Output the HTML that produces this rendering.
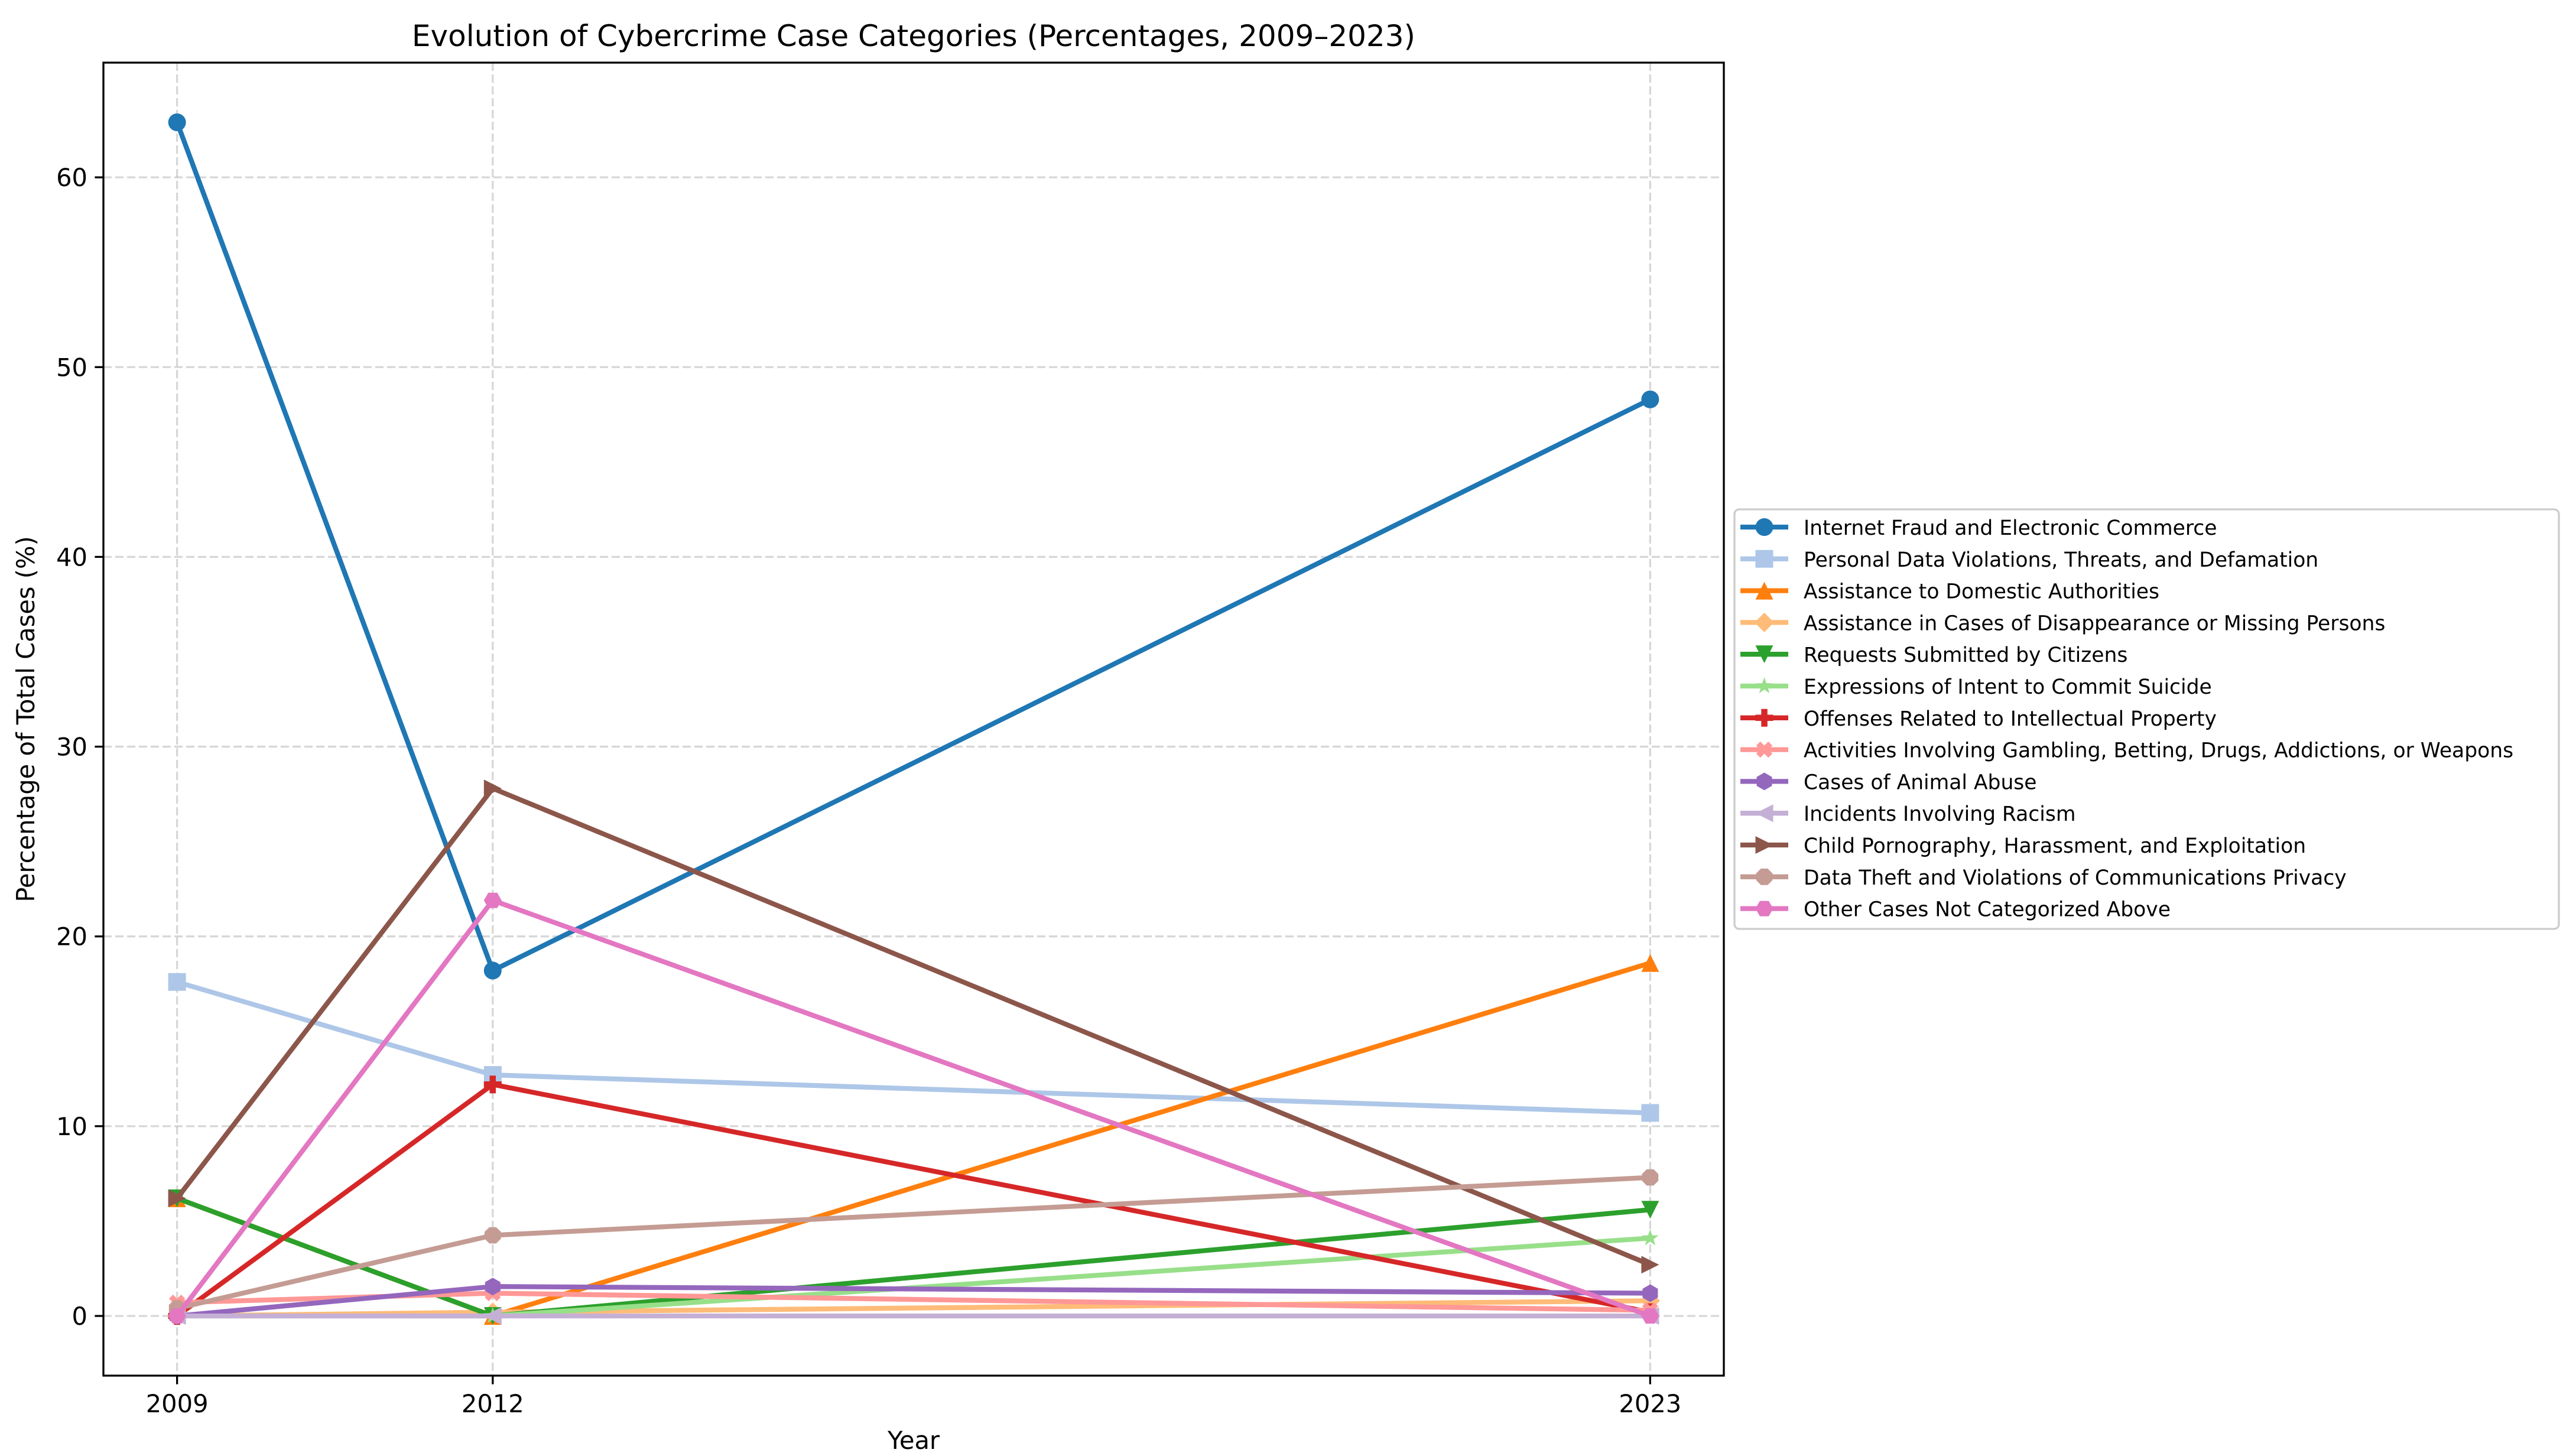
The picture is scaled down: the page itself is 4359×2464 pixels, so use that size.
<!DOCTYPE html>
<html><head><meta charset="utf-8"><style>
html,body{margin:0;padding:0;background:#fff;}
svg{display:block;font-family:"DejaVu Sans","Liberation Sans",sans-serif;}
</style></head><body>
<svg id="chart" width="4359" height="2464" viewBox="0 0 4359 2464" xmlns="http://www.w3.org/2000/svg">
<rect width="4359" height="2464" fill="#fff"/>
<text x="1546" y="78" font-size="50" text-anchor="middle">Evolution of Cybercrime Case Categories (Percentages, 2009–2023)</text>
<text x="1546" y="2452" font-size="41.6" text-anchor="middle">Year</text>
<text transform="translate(58,1217) rotate(-90)" font-size="41.6" text-anchor="middle">Percentage of Total Cases (%)</text>
<g id="grid"></g><g id="series"></g><g id="axes"></g><g id="legend"></g>
</svg>
<script>
const years = [2009, 2012, 2023];
const yTicks = [0, 10, 20, 30, 40, 50, 60];
const seriesNames = ["Internet Fraud and Electronic Commerce","Personal Data Violations, Threats, and Defamation","Assistance to Domestic Authorities","Assistance in Cases of Disappearance or Missing Persons","Requests Submitted by Citizens","Expressions of Intent to Commit Suicide","Offenses Related to Intellectual Property","Activities Involving Gambling, Betting, Drugs, Addictions, or Weapons","Cases of Animal Abuse","Incidents Involving Racism","Child Pornography, Harassment, and Exploitation","Data Theft and Violations of Communications Privacy","Other Cases Not Categorized Above"];
const fraud = [62.9, 18.2, 48.3];
const personalData = [17.6, 12.7, 10.7];
const domesticAuth = [6.2, 0, 18.6];
const missing = [0, 0.2, 0.8];
const requests = [6.2, 0, 5.6];
const suicide = [0, 0, 4.1];
const ip = [0, 12.2, 0.2];
const gambling = [0.7, 1.2, 0.3];
const animal = [0, 1.55, 1.2];
const racism = [0, 0, 0];
const child = [6.2, 27.8, 2.7];
const dataTheft = [0.4, 4.25, 7.3];
const other = [0, 21.9, 0];
const seriesValues = [fraud, personalData, domesticAuth, missing, requests, suicide, ip, gambling, animal, racism, child, dataTheft, other];
const colors = ["#1f77b4","#aec7e8","#ff7f0e","#ffbb78","#2ca02c","#98df8a","#d62728","#ff9896","#9467bd","#c5b0d5","#8c564b","#c49c94","#e377c2"];
const markers = ["o","s","^","D","v","*","P","X","h","<",">","8","H"];

const NS = "http://www.w3.org/2000/svg";
const L = 175, R = 2917, T = 106, B = 2328;
const allV = seriesValues.flat();
const vmin = Math.min(0, ...allV), vmax = Math.max(...allV);
const pad = (vmax - vmin) * 0.05;
const y0 = vmin - pad, y1 = vmax + pad;
const x0 = years[0] - 0.7, x1 = years[years.length-1] + 0.7;
const xS = v => L + (v - x0) / (x1 - x0) * (R - L);
const yS = v => B - (v - y0) / (y1 - y0) * (B - T);
function mk(tag, attrs, parent){ const e = document.createElementNS(NS, tag); for (const k in attrs) e.setAttribute(k, attrs[k]); parent.appendChild(e); return e; }

const grid = document.getElementById('grid');
yTicks.forEach(t => {
  const ln = mk('line', {x1:L, x2:R, y1:yS(t), y2:yS(t), stroke:'#b0b0b0', 'stroke-opacity':0.5, 'stroke-width':3.3, 'stroke-dasharray':'14,6'}, grid);
  
  
});
years.forEach(t => {
  const ln = mk('line', {x1:xS(t), x2:xS(t), y1:T, y2:B, stroke:'#b0b0b0', 'stroke-opacity':0.5, 'stroke-width':3.3, 'stroke-dasharray':'14,6'}, grid);
  
  
});

function markerPath(m, cx, cy, s){
  const r = s/2; let pts = [];
  const poly = (n, rot, rr) => { const p=[]; for(let i=0;i<n;i++){const a=rot+i*2*Math.PI/n; p.push([cx+rr*Math.cos(a), cy+rr*Math.sin(a)]);} return p; };
  switch(m){
    case 's': pts=[[cx-r,cy-r],[cx+r,cy-r],[cx+r,cy+r],[cx-r,cy+r]]; break;
    case '^': pts=[[cx,cy-r],[cx+r,cy+r],[cx-r,cy+r]]; break;
    case 'v': pts=[[cx,cy+r],[cx+r,cy-r],[cx-r,cy-r]]; break;
    case '<': pts=[[cx-r,cy],[cx+r,cy-r],[cx+r,cy+r]]; break;
    case '>': pts=[[cx+r,cy],[cx-r,cy-r],[cx-r,cy+r]]; break;
    case 'D': { const d=r*1.1; pts=[[cx,cy-d],[cx+d,cy],[cx,cy+d],[cx-d,cy]]; break; }
    case '*': for(let i=0;i<10;i++){const a=-Math.PI/2+i*Math.PI/5; const rr=i%2?r*0.4:r; pts.push([cx+rr*Math.cos(a), cy+rr*Math.sin(a)]);} break;
    case 'P': { const w=r*0.35; pts=[[cx-w,cy-r],[cx+w,cy-r],[cx+w,cy-w],[cx+r,cy-w],[cx+r,cy+w],[cx+w,cy+w],[cx+w,cy+r],[cx-w,cy+r],[cx-w,cy+w],[cx-r,cy+w],[cx-r,cy-w],[cx-w,cy-w]]; break; }
    case 'X': { const base=[[-0.35,-0.7],[0,-0.35],[0.35,-0.7],[0.7,-0.35],[0.35,0],[0.7,0.35],[0.35,0.7],[0,0.35],[-0.35,0.7],[-0.7,0.35],[-0.35,0],[-0.7,-0.35]]; pts=base.map(p=>[cx+p[0]*r*1.3, cy+p[1]*r*1.3]); break; }
    case 'h': pts=poly(6, -Math.PI/2, r); break;
    case 'H': pts=poly(6, 0, r); break;
    case '8': pts=poly(8, Math.PI/8, r); break;
    default: return null;
  }
  return 'M' + pts.map(p=>p[0].toFixed(1)+','+p[1].toFixed(1)).join('L') + 'Z';
}
function drawMarker(m, cx, cy, s, color, parent){
  let e;
  if (m === 'o') e = mk('circle', {cx, cy, r:s/2, fill:color}, parent);
  else e = mk('path', {d:markerPath(m, cx, cy, s), fill:color}, parent);
  return e;
}

const sg = document.getElementById('series');
seriesValues.forEach((vals, i) => {
  const g = mk('g', {}, sg);
  
  
  const d = vals.map((v, j) => (j ? 'L' : 'M') + xS(years[j]).toFixed(1) + ',' + yS(v).toFixed(1)).join('');
  const line = mk('path', {d, fill:'none', stroke:colors[i], 'stroke-width':8.3, 'stroke-linejoin':'round', 'stroke-linecap':'square'}, g);
  
  
  vals.forEach((v, j) => {
    const p = drawMarker(markers[i], xS(years[j]), yS(v), 30, colors[i], g);
    
    
  });
});

const ax = document.getElementById('axes');
const frame = mk('rect', {x:L, y:T, width:R-L, height:B-T, fill:'none', stroke:'#000', 'stroke-width':3.3}, ax);


yTicks.forEach(t => {
  mk('line', {x1:L-14.6, x2:L, y1:yS(t), y2:yS(t), stroke:'#000', 'stroke-width':3.3}, ax);
  const tx = mk('text', {x:L-27, y:yS(t)+15, 'font-size':41.6, 'text-anchor':'end'}, ax);
  tx.textContent = t;
  
  
});
years.forEach(t => {
  mk('line', {x1:xS(t), x2:xS(t), y1:B, y2:B+14.6, stroke:'#000', 'stroke-width':3.3}, ax);
  const tx = mk('text', {x:xS(t), y:2390, 'font-size':41.6, 'text-anchor':'middle'}, ax);
  tx.textContent = t;
  
  
});

const lg = document.getElementById('legend');


mk('rect', {x:2935, y:862, width:1395, height:710, rx:8, fill:'#fff', 'fill-opacity':0.8, stroke:'#cccccc', 'stroke-width':3.3}, lg);
seriesNames.forEach((n, i) => {
  const cy = 892 + i * 53.8;
  const eg = mk('g', {}, lg);
  
  
  mk('line', {x1:2945, x2:3026, y1:cy, y2:cy, stroke:colors[i], 'stroke-width':8.3}, eg);
  drawMarker(markers[i], 2985.5, cy, 30, colors[i], eg);
  const tx = mk('text', {x:3052, y:cy+13, 'font-size':34.5}, eg);
  tx.textContent = n;
});
</script>
</body></html>
